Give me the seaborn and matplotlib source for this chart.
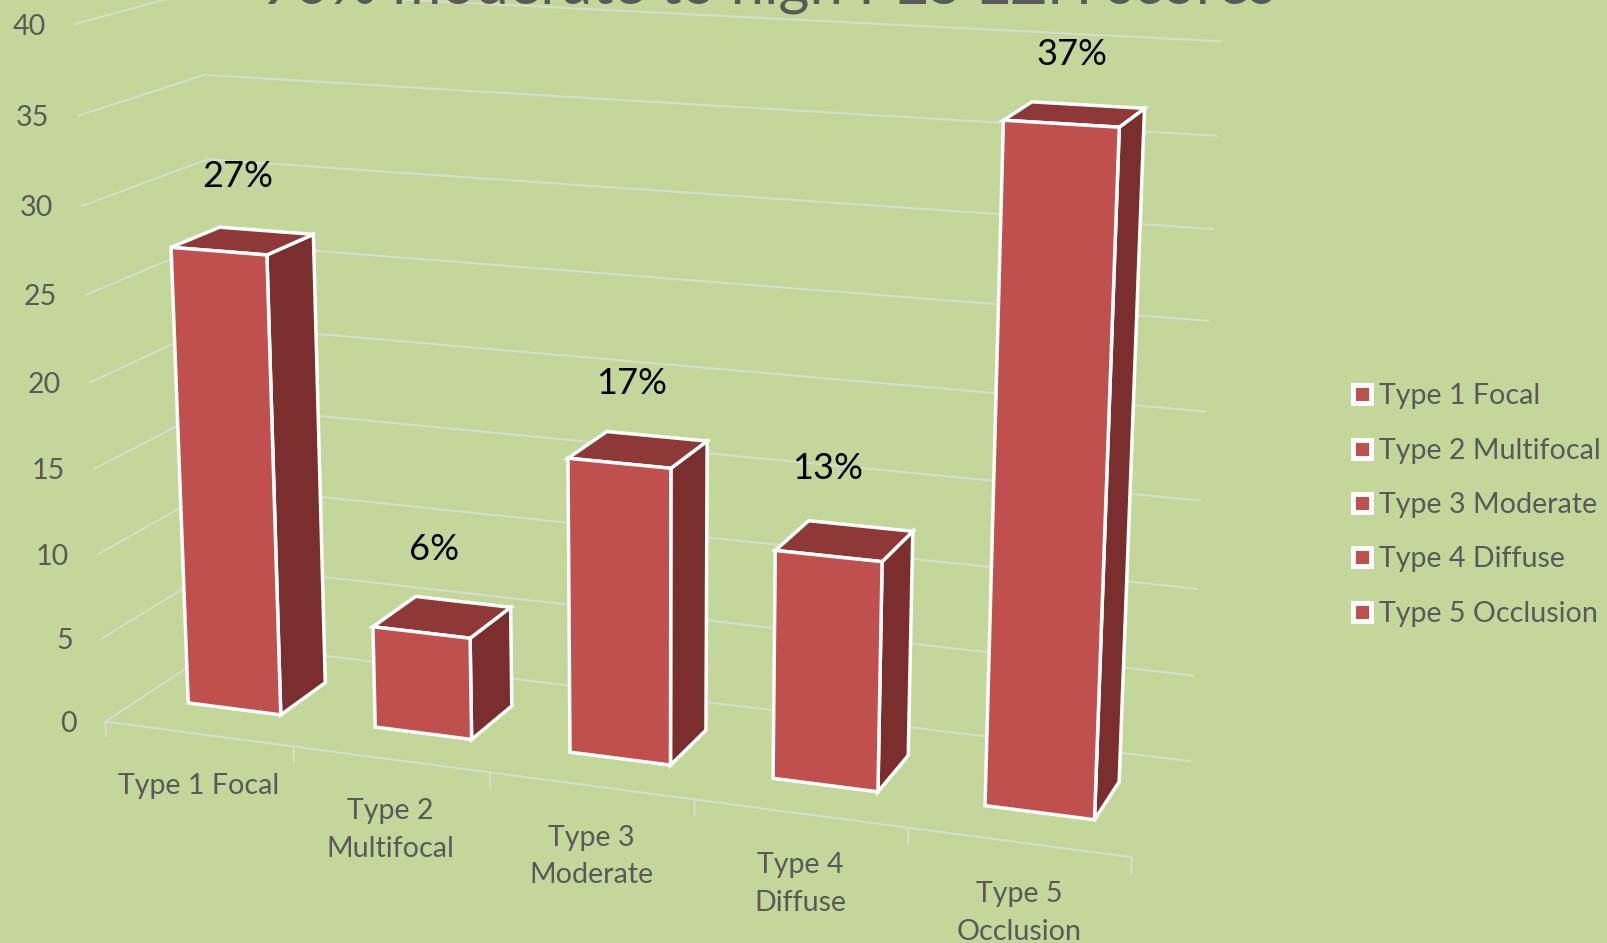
import numpy as np
import pandas as pd
import matplotlib
matplotlib.use("Agg")
import matplotlib.pyplot as plt
from matplotlib.lines import Line2D
from matplotlib.patches import Rectangle
from matplotlib.transforms import Transform
import seaborn as sns

# ---- data ----
categories = ["Type 1 Focal", "Type 2 Multifocal", "Type 3 Moderate", "Type 4 Diffuse", "Type 5 Occlusion"]
axis_labels = ["Type 1 Focal", "Type 2\nMultifocal", "Type 3\nModerate", "Type 4\nDiffuse", "Type 5\nOcclusion"]
values = [27, 6, 17, 13, 37]
value_labels = ["27%", "6%", "17%", "13%", "37%"]
y_ticks = [0, 5, 10, 15, 20, 25, 30, 35, 40]
title = "90% moderate to high PES EZH scores"

# ---- style ----
BG = "#C4D79B"; FRONT = "#C0504D"; SIDE = "#7A2E2E"; TOP = "#8E3938"
GRID = "#D9DCCB"; TEXT = "#595959"
W, H = 1608, 943
BAR_WIDTH = 0.5
W0, W1 = 0.30, 0.70   # bar depth range in the chart's floor
LABEL_NUDGE = [(-5, 64), (-8, 67), (-7, 66), (-17, 72), (-3, 60)]

sns.set_theme(style="white", rc={"figure.facecolor": BG, "axes.facecolor": BG, "savefig.facecolor": BG})
plt.rcParams["font.family"] = ["Lato", "DejaVu Sans"]

# ---- perspective camera, calibrated on the chart box corners: (u, value, depth) -> pixel ----
camera_world = np.array([[0,0,0],[1,0,0],[0,40,0],[0,35,0],[0,35,1],[0,30,0],[0,30,1],
                         [1,0,1],[1,5,1],[1,40,1],[1,35,1],[0,5,0]], float)
camera_pixel = np.array([[105,722],[1132,857],[73,24],[79,116],[206,75],[83,206],[206,159],
                         [1190,762],[1193,675],[1221,42],[1217,135],[102,638]], float)
A, b = [], []
for (u, v, d), (px, py) in zip(camera_world, camera_pixel):
    A.append([u, v, d, 1, 0, 0, 0, 0, -px*u, -px*v, -px*d]); b.append(px)
    A.append([0, 0, 0, 0, u, v, d, 1, -py*u, -py*v, -py*d]); b.append(py)
sol = np.linalg.lstsq(np.array(A), np.array(b), rcond=None)[0]
CAM = np.append(sol, 1.0).reshape(3, 4)


class Plane(Transform):
    """Maps 2-D data on one plane of the chart box to display pixels."""
    input_dims = output_dims = 2
    def __init__(self, kind, fixed):
        super().__init__()
        self.kind, self.fixed = kind, fixed
    def transform_non_affine(self, pts):
        pts = np.asarray(pts, float)
        a, c = pts[:, 0], pts[:, 1]
        f = np.full(len(pts), self.fixed, float)
        if self.kind == "front":   # a = category position, c = value, fixed = depth
            u, v, d = (a + .5) / 5, c, f
        elif self.kind == "side":  # a = depth, c = value, fixed = category position
            u, v, d = (f + .5) / 5, c, a
        else:                      # a = category position, c = depth, fixed = value
            u, v, d = (a + .5) / 5, f, c
        w = np.stack([u, v, d, np.ones_like(u)])
        p = CAM @ w
        return np.column_stack([p[0] / p[2], H - p[1] / p[2]])


df = pd.DataFrame({"category": categories, "value": values})
fig = plt.figure(figsize=(W / 100, H / 100), dpi=100)
ax = fig.add_axes([0, 0, 1, 1])
sns.barplot(data=df, x="category", y="value", color=FRONT, saturation=1, width=BAR_WIDTH, ax=ax,
            edgecolor="white", linewidth=2.5, zorder=5)
ax.set_xlim(-.5, 4.5); ax.set_ylim(0, 40)
ax.axis("off")

# box gridlines
for v in y_ticks:
    ax.plot([-.5, 4.5], [v, v], transform=Plane("front", 1), color=GRID, lw=1.5, zorder=1, clip_on=False)
    ax.plot([0, 1], [v, v], transform=Plane("side", -.5), color=GRID, lw=1.5, zorder=1, clip_on=False)
    ax.annotate(str(v), xy=(-.5, v), xycoords=Plane("front", 0), xytext=(-29, -2.5), textcoords="offset pixels",
                ha="right", va="center", color=TEXT, fontsize=20.6, annotation_clip=False)
ax.plot([-.5, 4.5], [0, 0], transform=Plane("front", 0), color=GRID, lw=1.5, zorder=1)
for i in range(6):
    ax.plot([i - .5, i - .5], [0, -.9], transform=Plane("front", 0), color=GRID, lw=1.5, zorder=1, clip_on=False)

# bars: seaborn's rectangles are the front faces, the side and top faces are built from them
for i, patch in enumerate(ax.patches[:len(values)]):
    x0, wd, val = patch.get_x(), patch.get_width(), patch.get_height()
    patch.set_transform(Plane("front", W0))
    patch.set_clip_on(False)
    patch.set_zorder(10 + i + .5)
    face = dict(edgecolor="white", linewidth=2.5, zorder=10 + i, clip_on=False)
    ax.add_patch(Rectangle((W0, 0), W1 - W0, val, facecolor=SIDE, transform=Plane("side", x0 + wd), **face))
    ax.add_patch(Rectangle((x0, W0), wd, W1 - W0, facecolor=TOP, transform=Plane("top", val), **face))
    ax.annotate(value_labels[i], xy=(x0 + wd / 2, (W0 + W1) / 2), xycoords=Plane("top", val),
                xytext=LABEL_NUDGE[i], textcoords="offset pixels", ha="center", va="center",
                color="black", fontsize=26, zorder=30, annotation_clip=False)
    ax.annotate(axis_labels[i], xy=(i, 0), xycoords=Plane("front", 0), xytext=(0, -39), textcoords="offset pixels",
                ha="center", va="top", color=TEXT, fontsize=20.6, linespacing=1.54, annotation_clip=False)

fig.text(768 / W, 1 - 4 / H, title, ha="center", va="baseline", color=TEXT, fontsize=43)

handles = [Line2D([], [], ls="", marker="s", ms=12.6, mew=3.6, mfc=FRONT, mec="white", label=c) for c in categories]
leg = fig.legend(handles=handles, loc="center left", bbox_to_anchor=(1348 / W, 1 - 505 / H), frameon=False,
                 fontsize=20.6, labelcolor=TEXT, labelspacing=.99, handlelength=1, handletextpad=.1,
                 borderpad=0, borderaxespad=0)

fig.savefig("out.png", dpi=100)
